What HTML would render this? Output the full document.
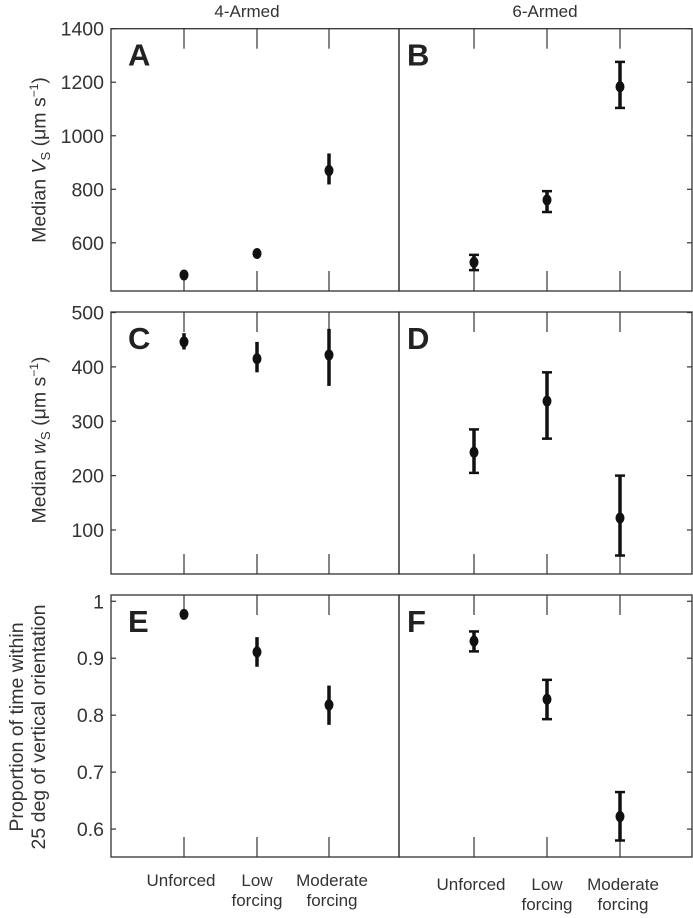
<!DOCTYPE html>
<html><head><meta charset="utf-8"><style>
body{margin:0;background:#fff;}
svg{display:block;font-family:"Liberation Sans",sans-serif;}
</style></head><body>
<svg id="chart" width="693" height="918" viewBox="0 0 693 918"></svg>
<script>
const categories=["Unforced","Low forcing","Moderate forcing"];
const aMed=[480,560,870], aLo=[470,548,818], aHi=[490,572,934];
const bMed=[527,760,1183], bLo=[498,715,1104], bHi=[555,793,1276];
const cMed=[446,415,422], cLo=[432,390,365], cHi=[462,446,470];
const dMed=[243,337,122], dLo=[205,268,53], dHi=[285,390,200];
const eMed=[0.977,0.911,0.818], eLo=[0.977,0.885,0.783], eHi=[0.977,0.937,0.852];
const fMed=[0.930,0.828,0.622], fLo=[0.912,0.793,0.580], fHi=[0.947,0.862,0.665];
const ticksTop=[600,800,1000,1200,1400];
const ticksMid=[100,200,300,400,500];
const ticksBot=[0.6,0.7,0.8,0.9,1];
const tickLabelsBot=["0.6","0.7","0.8","0.9","1"];

const NS="http://www.w3.org/2000/svg";
const svg=document.getElementById('chart');
function mk(tag,attrs,parent){const e=document.createElementNS(NS,tag);for(const k in attrs)e.setAttribute(k,attrs[k]);(parent||svg).appendChild(e);return e;}

const rows=[
 {top:28.7,bot:291,min:420,max:1400,ticks:ticksTop,labels:ticksTop.map(String),L:[aMed,aLo,aHi],R:[bMed,bLo,bHi],letters:["A","B"]},
 {top:312,bot:574,min:19,max:501,ticks:ticksMid,labels:ticksMid.map(String),L:[cMed,cLo,cHi],R:[dMed,dLo,dHi],letters:["C","D"]},
 {top:595,bot:857,min:0.551,max:1.011,ticks:ticksBot,labels:tickLabelsBot,L:[eMed,eLo,eHi],R:[fMed,fLo,fHi],letters:["E","F"]}
];
const panelsX=[{x0:111,x1:399,xs:[184,257,329]},{x0:399,x1:692,xs:[474,547,620]}];

rows.forEach((r,ri)=>{
  const y=v=>r.bot-(v-r.min)/(r.max-r.min)*(r.bot-r.top);
  panelsX.forEach((p,pi)=>{
    const g=mk('g',{});
    
    
    mk('rect',{x:p.x0,y:r.top,width:p.x1-p.x0,height:r.bot-r.top,fill:'none',stroke:'#333','stroke-width':1.3},g);
    p.xs.forEach(x=>{
      mk('line',{x1:x,x2:x,y1:r.top,y2:r.top+20,stroke:'#333','stroke-width':1.2},g);
      mk('line',{x1:x,x2:x,y1:r.bot,y2:r.bot-20,stroke:'#333','stroke-width':1.2},g);
    });
    r.ticks.forEach(t=>{
      const yy=y(t);
      if(pi===0) mk('line',{x1:p.x0,x2:p.x0+5,y1:yy,y2:yy,stroke:'#333','stroke-width':1.2},g);
      else mk('line',{x1:p.x1,x2:p.x1-5,y1:yy,y2:yy,stroke:'#333','stroke-width':1.2},g);
    });
    const lt=mk('text',{x:p.x0+(pi===0?17:8),y:r.top+37,'font-size':31,'font-weight':'bold',fill:'#222'},g);
    lt.textContent=r.letters[pi];
    
    
    const d=pi===0?r.L:r.R;
    d[0].forEach((m,i)=>{
      const x=p.xs[i];
      const bar=mk('line',{x1:x,x2:x,y1:y(d[2][i]),y2:y(d[1][i]),stroke:'#111','stroke-width':3.5},g);
      
      
      if(pi===1){
        [d[1][i],d[2][i]].forEach(v=>mk('line',{x1:x-5,x2:x+5,y1:y(v),y2:y(v),stroke:'#111','stroke-width':2.5},g));
      }
      const pt=mk('ellipse',{cx:x,cy:y(m),rx:4.5,ry:5.5,fill:'#111'},g);
      
      
    });
  });
  r.ticks.forEach((t,i)=>{
    const tx=mk('text',{x:104,y:y(t)+7,'font-size':19.5,'text-anchor':'end',fill:'#333'});
    tx.textContent=r.labels[i];
    
    
  });
});

// x labels
panelsX.forEach((p,pi)=>{
  const dy=pi===0?0:4;
  const lines=[["Unforced"],["Low","forcing"],["Moderate","forcing"]];
  lines.forEach((ls,i)=>{
    ls.forEach((s,j)=>{
      const tx=mk('text',{x:p.xs[i]+(i===0?-3:(i===2?3:0)),y:886+dy+j*20,'font-size':17,'text-anchor':'middle',fill:'#333'});
      tx.textContent=s;
      
      
    });
  });
});
</script>
<div style="position:absolute;left:0;top:0;width:693px;height:918px;pointer-events:none;font-family:'Liberation Sans',sans-serif;color:#333;">
  <div style="position:absolute;left:132px;top:2px;width:230px;text-align:center;font-size:17px;">4-Armed</div>
  <div style="position:absolute;left:430px;top:2px;width:230px;text-align:center;font-size:17px;">6-Armed</div>
  <div style="position:absolute;left:40px;top:160px;transform:translate(-50%,-50%) rotate(-90deg);white-space:nowrap;font-size:19.5px;">Median <i>V</i><sub style="font-size:13px">S</sub> (μm s<sup style="font-size:12px">−1</sup>)</div>
  <div style="position:absolute;left:40px;top:440px;transform:translate(-50%,-50%) rotate(-90deg);white-space:nowrap;font-size:19.5px;">Median <i>w</i><sub style="font-size:13px">S</sub> (μm s<sup style="font-size:12px">−1</sup>)</div>
  <div style="position:absolute;left:28px;top:727px;transform:translate(-50%,-50%) rotate(-90deg);white-space:nowrap;font-size:19.5px;text-align:center;line-height:22px;">Proportion of time within<br>25 deg of vertical orientation</div>
</div>
</body></html>
